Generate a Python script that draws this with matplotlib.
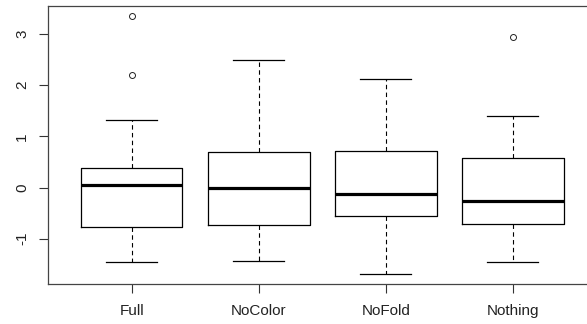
import matplotlib
matplotlib.use("Agg")
import matplotlib.pyplot as plt

# five-number summaries
groups = ["Full", "NoColor", "NoFold", "Nothing"]
whislo = [-1.46, -1.44, -1.68, -1.46]
q1 = [-0.78, -0.74, -0.56, -0.72]
med = [0.04, 0.00, -0.12, -0.27]
q3 = [0.38, 0.70, 0.72, 0.57]
whishi = [1.31, 2.48, 2.12, 1.40]
fliers = [[3.35, 2.20], [], [], [2.93]]

plt.rcParams['font.family'] = ['Liberation Sans', 'DejaVu Sans']

fig = plt.figure(figsize=(5.87, 3.24), dpi=100)
ax = fig.add_axes([0.0813, 0.1225, 0.9354, 0.86])

stats = []
for i, g in enumerate(groups):
    stats.append(dict(label=g, whislo=whislo[i], q1=q1[i], med=med[i],
                      q3=q3[i], whishi=whishi[i], fliers=fliers[i]))

ax.bxp(stats, positions=range(1, 5), widths=0.8, capwidths=0.4,
       patch_artist=False,
       boxprops=dict(color='black', linewidth=0.9),
       whiskerprops=dict(color='black', linewidth=0.8, linestyle=(0, (4, 3))),
       capprops=dict(color='black', linewidth=0.9),
       medianprops=dict(color='black', linewidth=2.3, solid_capstyle='butt'),
       flierprops=dict(marker='o', markersize=4.3, markerfacecolor='none',
                       markeredgecolor='#222222', markeredgewidth=0.7))

ax.set_xlim(0.34, 4.66)
ax.set_ylim(-1.89, 3.55)
ax.set_yticks([-1, 0, 1, 2, 3])
ax.set_yticklabels(['-1', '0', '1', '2', '3'], rotation=90, va='center')
ax.tick_params(axis='both', length=6.3, width=0.8, color='#333333',
               labelsize=11, labelcolor='#222222')
ax.tick_params(axis='y', pad=7)
ax.tick_params(axis='x', pad=8)
for s in ax.spines.values():
    s.set_linewidth(0.9)
    s.set_color('#444444')
ax.spines['right'].set_visible(False)

fig.savefig("out.png", dpi=100)
